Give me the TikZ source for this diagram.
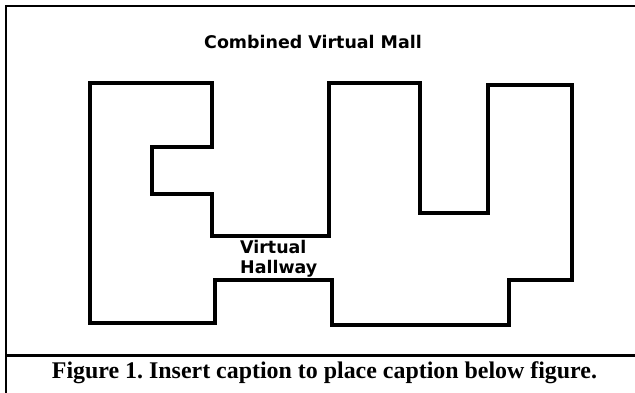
\documentclass[tikz,border=0pt]{standalone}
\usepackage{fontspec}
\setmainfont{Liberation Serif}
\newfontfamily\mallfont{DejaVu Sans}
\frenchspacing
\begin{document}
\begin{tikzpicture}[
      x=1bp, y=-1bp,
      every node/.style={inner sep=0pt},
      frame/.style={line width=2.5bp},
      wall/.style={line width=3.5bp, line join=miter},
      mall/.style={font=\mallfont\bfseries\fontsize{17.5}{20}\selectfont},
      caption/.style={font=\bfseries\fontsize{24}{28}\selectfont}
    ]
      \useasboundingbox (0,0) rectangle (635,392);
      \draw[frame] (6,400) -- (6,6) -- (640,6);
      \draw[frame] (6,355.5) -- (640,355.5);
      \draw[wall] (90,83) -- (212,83) -- (212,147) -- (152,147) -- (152,194)
        -- (212,194) -- (212,236) -- (329,236) -- (329,83) -- (420,83)
        -- (420,213) -- (488,213) -- (488,85) -- (572,85) -- (572,280)
        -- (509,280) -- (509,325) -- (332,325) -- (332,280) -- (215,280)
        -- (215,323) -- (90,323) -- cycle;
      \node[mall, anchor=base] (title) at (313,48) {Combined Virtual Mall};
      \node[mall, anchor=base west] (virtual) at (240,253) {Virtual};
      \node[mall, anchor=base west] (hallway) at (240,273) {Hallway};
      \node[caption, anchor=base] (figcap) at (324.5,378)
        {Figure 1. Insert caption to place caption below figure.};
\end{tikzpicture}
\end{document}
